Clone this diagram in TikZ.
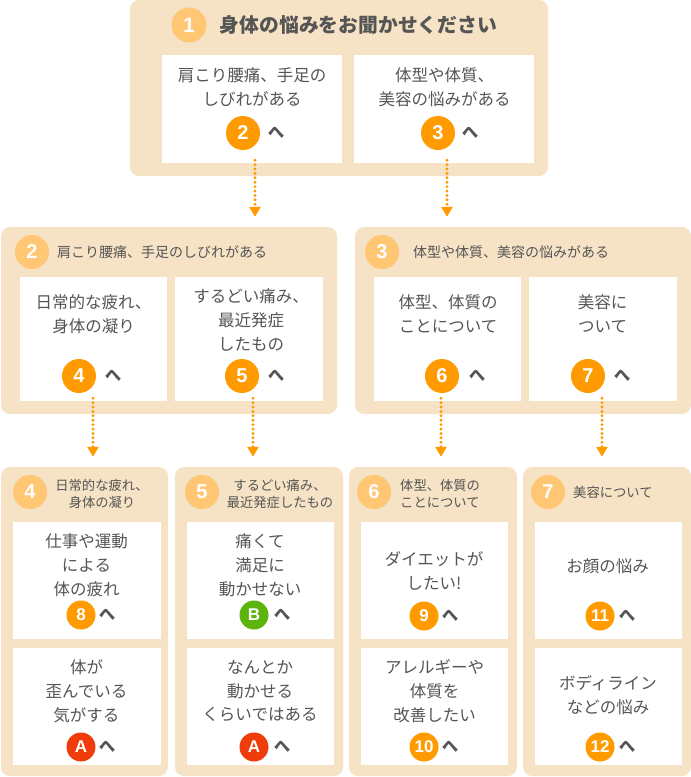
\documentclass[tikz,border=0pt]{standalone}
\usepackage{fontspec}
\setmainfont{Noto Sans CJK JP}
\newfontfamily\numfont{Liberation Sans}
\usetikzlibrary{arrows.meta}
\definecolor{panelc}{HTML}{F6E2C4}
\definecolor{hdrc}{HTML}{FFC673}
\definecolor{orgc}{HTML}{FF9A00}
\definecolor{redc}{HTML}{F03C0A}
\definecolor{grnc}{HTML}{5CB40C}
\definecolor{txtc}{HTML}{555555}
\tikzset{
  panel/.style={fill=panelc, rounded corners=9pt, inner sep=0pt},
  wbox/.style={fill=white, inner sep=0pt},
  body/.style={text=txtc, inner sep=0pt, align=center, font=\fontsize{16.5}{23.8}\selectfont},
  hdrtxt/.style={text=txtc, inner sep=0pt, font=\fontsize{14}{17}\selectfont},
  hdrtxtb/.style={text=txtc, inner sep=0pt, align=center, font=\fontsize{13.3}{17}\selectfont},
  hcirc/.style={circle, fill=hdrc, minimum size=34pt, inner sep=0pt, text=white, font=\numfont\bfseries\fontsize{20}{20}\selectfont},
  bcirc/.style={circle, fill=#1, minimum size=34pt, inner sep=0pt, text=white, font=\numfont\bfseries\fontsize{20}{20}\selectfont},
  scirc/.style={circle, fill=#1, minimum size=29pt, inner sep=0pt, text=white, font=\numfont\bfseries\fontsize{17}{17}\selectfont},
  he/.style={text=txtc, inner sep=0pt, font=\bfseries\fontsize{16.5}{16.5}\selectfont},
  arr/.style={draw=orgc, line width=3.2pt, line cap=round, dash pattern=on 0pt off 4.4pt, -{Triangle[width=11pt,length=10pt]}, shorten >=10pt},
}
\begin{document}
\begin{tikzpicture}[x=1pt,y=-1pt]
\useasboundingbox (0,0) rectangle (691,777);

% ---------- panel 1
\node[panel, minimum width=418pt, minimum height=176pt] (p1) at (339,88) {};
\node[hcirc, minimum size=35pt, font=\numfont\bfseries\fontsize{21}{21}\selectfont] (c1) at (189,25) {1};
\node[text=txtc, inner sep=0pt, font=\bfseries\fontsize{19.8}{20}\selectfont] (t1) at (358.5,25) {身体の悩みをお聞かせください};
\node[wbox, minimum width=180pt, minimum height=108pt] (b12) at (252,109) {};
\node[wbox, minimum width=180pt, minimum height=108pt] (b13) at (444,109) {};
\node[body] (t12) at (252,87) {肩こり腰痛、手足の\\しびれがある};
\node[body] (t13) at (444.5,87) {体型や体質、\\美容の悩みがある};
\node[bcirc=orgc] (c12) at (243,133) {2};
\node[he] (h12) at (276,133) {へ};
\node[bcirc=orgc] (c13) at (438,133) {3};
\node[he] (h13) at (470,133) {へ};

% ---------- panel 2
\node[panel, minimum width=336pt, minimum height=187pt] (p2) at (169,320.5) {};
\node[hcirc] (c2) at (32,252) {2};
\node[hdrtxt, anchor=west] (t2) at (57,252) {肩こり腰痛、手足のしびれがある};
\node[wbox, minimum width=147pt, minimum height=124pt] (b21) at (93.5,339) {};
\node[wbox, minimum width=148pt, minimum height=124pt] (b22) at (249,339) {};
\node[body] (t21) at (93.5,314) {日常的な疲れ、\\身体の凝り};
\node[body] (t22) at (251,320) {するどい痛み、\\最近発症\\したもの};
\node[bcirc=orgc] (c21) at (79,376) {4};
\node[he] (h21) at (113,376) {へ};
\node[bcirc=orgc] (c22) at (242,376) {5};
\node[he] (h22) at (276,376) {へ};

% ---------- panel 3
\node[panel, minimum width=336pt, minimum height=187pt] (p3) at (523,320.5) {};
\node[hcirc] (c3) at (382,252) {3};
\node[hdrtxt, anchor=west] (t3) at (413,252) {体型や体質、美容の悩みがある};
\node[wbox, minimum width=147pt, minimum height=124pt] (b31) at (447.5,339) {};
\node[wbox, minimum width=148pt, minimum height=124pt] (b32) at (603,339) {};
\node[body] (t31) at (448,314) {体型、体質の\\ことについて};
\node[body] (t32) at (602.5,314) {美容に\\ついて};
\node[bcirc=orgc] (c31) at (442,376) {6};
\node[he] (h31) at (477,376) {へ};
\node[bcirc=orgc] (c32) at (588,376) {7};
\node[he] (h32) at (622,376) {へ};

% ---------- panel 4
\node[panel, minimum width=167pt, minimum height=309pt] (p4) at (84.5,621.5) {};
\node[hcirc] (c4) at (30,492) {4};
\node[hdrtxtb] (t4) at (102,493.5) {日常的な疲れ、\\身体の凝り};
\node[wbox, minimum width=148pt, minimum height=117pt] (b41) at (87,580.5) {};
\node[wbox, minimum width=148pt, minimum height=117pt] (b42) at (87,706.5) {};
\node[body] (t41) at (86.5,565) {仕事や運動\\による\\体の疲れ};
\node[scirc=orgc] (c41) at (81,615) {8};
\node[he] (h41) at (107,615) {へ};
\node[body] (t42) at (86.5,691) {体が\\歪んでいる\\気がする};
\node[scirc=redc] (c42) at (81,747) {A};
\node[he] (h42) at (107,747) {へ};

% ---------- panel 5
\node[panel, minimum width=168pt, minimum height=309pt] (p5) at (259,621.5) {};
\node[hcirc] (c5) at (202,492) {5};
\node[hdrtxtb] (t5) at (280,493.5) {するどい痛み、\\最近発症したもの};
\node[wbox, minimum width=147pt, minimum height=117pt] (b51) at (260.5,580.5) {};
\node[wbox, minimum width=147pt, minimum height=117pt] (b52) at (260.5,706.5) {};
\node[body] (t51) at (260,565) {痛くて\\満足に\\動かせない};
\node[scirc=grnc] (c51) at (254,615) {B};
\node[he] (h51) at (282,615) {へ};
\node[body] (t52) at (260,691) {なんとか\\動かせる\\くらいではある};
\node[scirc=redc] (c52) at (254,747) {A};
\node[he] (h52) at (282,747) {へ};

% ---------- panel 6
\node[panel, minimum width=168pt, minimum height=309pt] (p6) at (433,621.5) {};
\node[hcirc] (c6) at (374,492) {6};
\node[hdrtxtb, align=left, anchor=west] (t6) at (400,493.5) {体型、体質の\\ことについて};
\node[wbox, minimum width=147pt, minimum height=117pt] (b61) at (434.5,580.5) {};
\node[wbox, minimum width=147pt, minimum height=117pt] (b62) at (434.5,706.5) {};
\node[body] (t61) at (434,571) {ダイエットが\\したい!};
\node[scirc=orgc] (c61) at (424,616) {9};
\node[he] (h61) at (450,616) {へ};
\node[body] (t62) at (434.5,691) {アレルギーや\\体質を\\改善したい};
\node[scirc=orgc] (c62) at (424,747) {10};
\node[he] (h62) at (450,747) {へ};

% ---------- panel 7
\node[panel, minimum width=168pt, minimum height=309pt] (p7) at (607,621.5) {};
\node[hcirc] (c7) at (548,492) {7};
\node[hdrtxtb, anchor=west] (t7) at (573,492) {美容について};
\node[wbox, minimum width=147pt, minimum height=117pt] (b71) at (608.5,580.5) {};
\node[wbox, minimum width=147pt, minimum height=117pt] (b72) at (608.5,706.5) {};
\node[body] (t71) at (607.5,566) {お顔の悩み};
\node[scirc=orgc] (c71) at (600,616) {11};
\node[he] (h71) at (627,616) {へ};
\node[body] (t72) at (608,695) {ボディライン\\などの悩み};
\node[scirc=orgc] (c72) at (600,747) {12};
\node[he] (h72) at (627,747) {へ};

% ---------- arrows
\draw[arr] ([xshift=3pt,yshift=3pt]b12.south) -- ([xshift=3pt]b12.south |- p2.north);
\draw[arr] ([xshift=3pt,yshift=3pt]b13.south) -- ([xshift=3pt]b13.south |- p3.north);
\draw[arr] ([xshift=-0.5pt,yshift=3pt]b21.south) -- ([xshift=-0.5pt]b21.south |- p4.north);
\draw[arr] ([xshift=4pt,yshift=3pt]b22.south) -- ([xshift=4pt]b22.south |- p5.north);
\draw[arr] ([xshift=-6.5pt,yshift=3pt]b31.south) -- ([xshift=-6.5pt]b31.south |- p6.north);
\draw[arr] ([xshift=-1pt,yshift=3pt]b32.south) -- ([xshift=-1pt]b32.south |- p7.north);
\end{tikzpicture}
\end{document}
